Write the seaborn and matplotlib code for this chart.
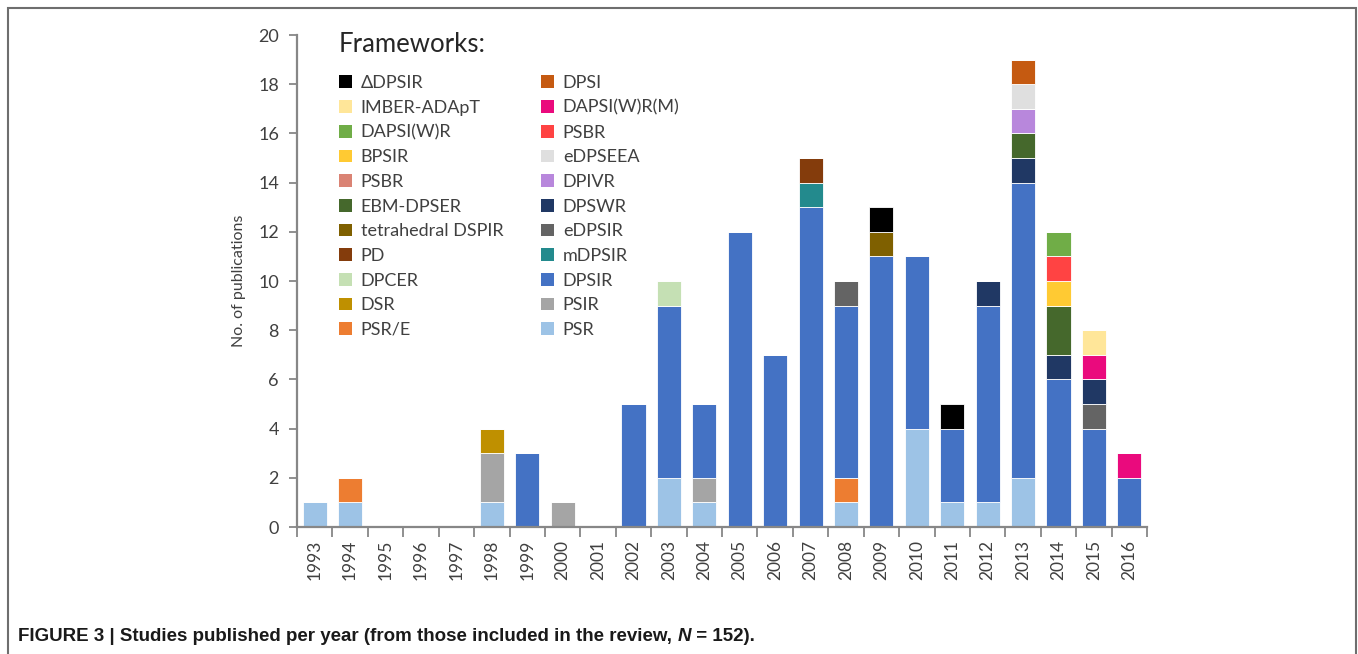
import numpy as np
import pandas as pd
import matplotlib.pyplot as plt
import seaborn as sns
from matplotlib.patches import Patch, Rectangle

# years on the x axis
years = list(range(1993, 2017))

# counts per framework, one value per year (1993..2016)
psr        = [1,1,0,0,0,1,0,0,0,0,2,1,0,0,0,1,0,4,1,1,2,0,0,0]
psr_e      = [0,1,0,0,0,0,0,0,0,0,0,0,0,0,0,1,0,0,0,0,0,0,0,0]
psir       = [0,0,0,0,0,2,0,1,0,0,0,1,0,0,0,0,0,0,0,0,0,0,0,0]
dsr        = [0,0,0,0,0,1,0,0,0,0,0,0,0,0,0,0,0,0,0,0,0,0,0,0]
dpsir      = [0,0,0,0,0,0,3,0,0,5,7,3,12,7,13,7,11,7,3,8,12,6,4,2]
dpcer      = [0,0,0,0,0,0,0,0,0,0,1,0,0,0,0,0,0,0,0,0,0,0,0,0]
mdpsir     = [0,0,0,0,0,0,0,0,0,0,0,0,0,0,1,0,0,0,0,0,0,0,0,0]
pd_        = [0,0,0,0,0,0,0,0,0,0,0,0,0,0,1,0,0,0,0,0,0,0,0,0]
edpsir     = [0,0,0,0,0,0,0,0,0,0,0,0,0,0,0,1,0,0,0,0,0,0,1,0]
tetra      = [0,0,0,0,0,0,0,0,0,0,0,0,0,0,0,0,1,0,0,0,0,0,0,0]
dpswr      = [0,0,0,0,0,0,0,0,0,0,0,0,0,0,0,0,0,0,0,1,1,1,1,0]
ebm        = [0,0,0,0,0,0,0,0,0,0,0,0,0,0,0,0,0,0,0,0,1,2,0,0]
dpivr      = [0,0,0,0,0,0,0,0,0,0,0,0,0,0,0,0,0,0,0,0,1,0,0,0]
psbr_a     = [0]*24
edpseea    = [0,0,0,0,0,0,0,0,0,0,0,0,0,0,0,0,0,0,0,0,1,0,0,0]
bpsir      = [0,0,0,0,0,0,0,0,0,0,0,0,0,0,0,0,0,0,0,0,0,1,0,0]
psbr_b     = [0,0,0,0,0,0,0,0,0,0,0,0,0,0,0,0,0,0,0,0,0,1,0,0]
dapsiwr    = [0,0,0,0,0,0,0,0,0,0,0,0,0,0,0,0,0,0,0,0,0,1,0,0]
dapsiwrm   = [0,0,0,0,0,0,0,0,0,0,0,0,0,0,0,0,0,0,0,0,0,0,1,1]
imber      = [0,0,0,0,0,0,0,0,0,0,0,0,0,0,0,0,0,0,0,0,0,0,1,0]
dpsi       = [0,0,0,0,0,0,0,0,0,0,0,0,0,0,0,0,0,0,0,0,1,0,0,0]
ddpsir     = [0,0,0,0,0,0,0,0,0,0,0,0,0,0,0,0,1,0,1,0,0,0,0,0]

# stack order, top of the stack first (same as legend reading order)
keys = ["ddpsir", "dpsi", "imber", "dapsiwrm", "dapsiwr", "psbr_b", "bpsir",
        "edpseea", "psbr_a", "dpivr", "ebm", "dpswr", "tetra", "edpsir",
        "pd", "mdpsir", "dpcer", "dpsir", "dsr", "psir", "psr_e", "psr"]
labels = ["ΔDPSIR", "DPSI", "IMBER-ADApT", "DAPSI(W)R(M)", "DAPSI(W)R", "PSBR",
          "BPSIR", "eDPSEEA", "PSBR", "DPIVR", "EBM-DPSER", "DPSWR",
          "tetrahedral DSPIR", "eDPSIR", "PD", "mDPSIR", "DPCER", "DPSIR",
          "DSR", "PSIR", "PSR/E", "PSR"]
colors = ["#000000", "#C55A11", "#FFE699", "#EA0A7D", "#70AD47", "#FF4343",
          "#FFCA33", "#DFDFDF", "#DA8374", "#B887DC", "#45682C", "#203864",
          "#7F6000", "#646464", "#843C0C", "#238A8D", "#C5E0B4", "#4472C4",
          "#BF9000", "#A5A5A5", "#ED7D31", "#9DC3E6"]
counts = [ddpsir, dpsi, imber, dapsiwrm, dapsiwr, psbr_b, bpsir, edpseea,
          psbr_a, dpivr, ebm, dpswr, tetra, edpsir, pd_, mdpsir, dpcer, dpsir,
          dsr, psir, psr_e, psr]

rows = []
for k, c in zip(keys, counts):
    for y, n in zip(years, c):
        rows.append({"year": y, "framework": k, "n": n})
df = pd.DataFrame(rows)

sns.set_style("white")
plt.rcParams['font.family'] = ['Lato', 'DejaVu Sans']

fig = plt.figure(figsize=(13.58, 6.54), dpi=100)
ax = fig.add_axes([297/1358, 1 - 527/654, 850/1358, 492/654])

sns.histplot(data=df, x="year", weights="n", hue="framework", hue_order=keys,
             palette=dict(zip(keys, colors)), multiple="stack", discrete=True,
             shrink=0.68, alpha=1, edgecolor="white", linewidth=0.6,
             legend=False, ax=ax)

ax.set_xlim(1992.5, 2016.5)
ax.set_ylim(0, 20)
ax.set_yticks(range(0, 21, 2))
ax.set_xticks(years)
ax.set_xticklabels([str(y) for y in years], rotation=90)
ax.set_xticks(np.arange(1992.5, 2017, 1), minor=True)
ax.tick_params(axis="x", which="major", length=0, labelsize=12.5,
               labelcolor="#404040", pad=9)
ax.tick_params(axis="x", which="minor", length=7, width=1.3, color="#878787",
               direction="out", bottom=True)
ax.tick_params(axis="y", length=6, width=1.3, color="#878787", direction="out",
               left=True, labelsize=13, labelcolor="#404040", pad=7)
ax.set_xlabel("")
ax.set_ylabel("No. of publications", fontsize=11.5, color="#404040", labelpad=9)
sns.despine(ax=ax)
for s in ["left", "bottom"]:
    ax.spines[s].set_color("#878787")
    ax.spines[s].set_linewidth(1.6)

# legend in two columns, read row by row
col1 = list(range(0, 22, 2))
col2 = list(range(1, 22, 2))
order = col1 + col2
handles = [Patch(facecolor=colors[i], edgecolor="none") for i in order]
leg = ax.legend(handles, [labels[i] for i in order], ncol=2,
                title="Frameworks:", loc="upper left",
                bbox_to_anchor=(339/1358, 1 - 32/654),
                bbox_transform=fig.transFigure, frameon=False,
                fontsize=13, title_fontproperties={"size": 18.5},
                alignment="left", handlelength=0.7, handleheight=0.7,
                handletextpad=0.5, labelspacing=0.48, columnspacing=2.1,
                borderaxespad=0, borderpad=0)
for t in leg.get_texts():
    t.set_color("#404040")
leg._legend_box.sep = 13

# figure frame and caption
fig.patches.append(Rectangle((8/1358, -0.1), 1348/1358, 1.1 - 8/654,
                             transform=fig.transFigure, fill=False,
                             edgecolor="#6e6e6e", linewidth=1.5))
cap_font = ['Liberation Sans Narrow', 'Liberation Sans', 'DejaVu Sans']
cap_y = 1 - 641/654
t1 = fig.text(18/1358, cap_y,
              "FIGURE 3 | Studies published per year (from those included in the review, ",
              fontsize=13.5, fontweight="bold", family=cap_font, color="#1a1a1a")
t2 = fig.text(0, cap_y, "N", fontsize=13.5, fontweight="bold", style="italic",
              family=cap_font, color="#1a1a1a")
t3 = fig.text(0, cap_y, " = 152).", fontsize=13.5, fontweight="bold",
              family=cap_font, color="#1a1a1a")
fig.canvas.draw()
r = fig.canvas.get_renderer()
inv = fig.transFigure.inverted()
b1 = t1.get_window_extent(r)
t2.set_x(inv.transform((b1.x1, 0))[0])
b2 = t2.get_window_extent(r)
t3.set_x(inv.transform((b2.x1, 0))[0])

fig.savefig("out.png", dpi=100)
